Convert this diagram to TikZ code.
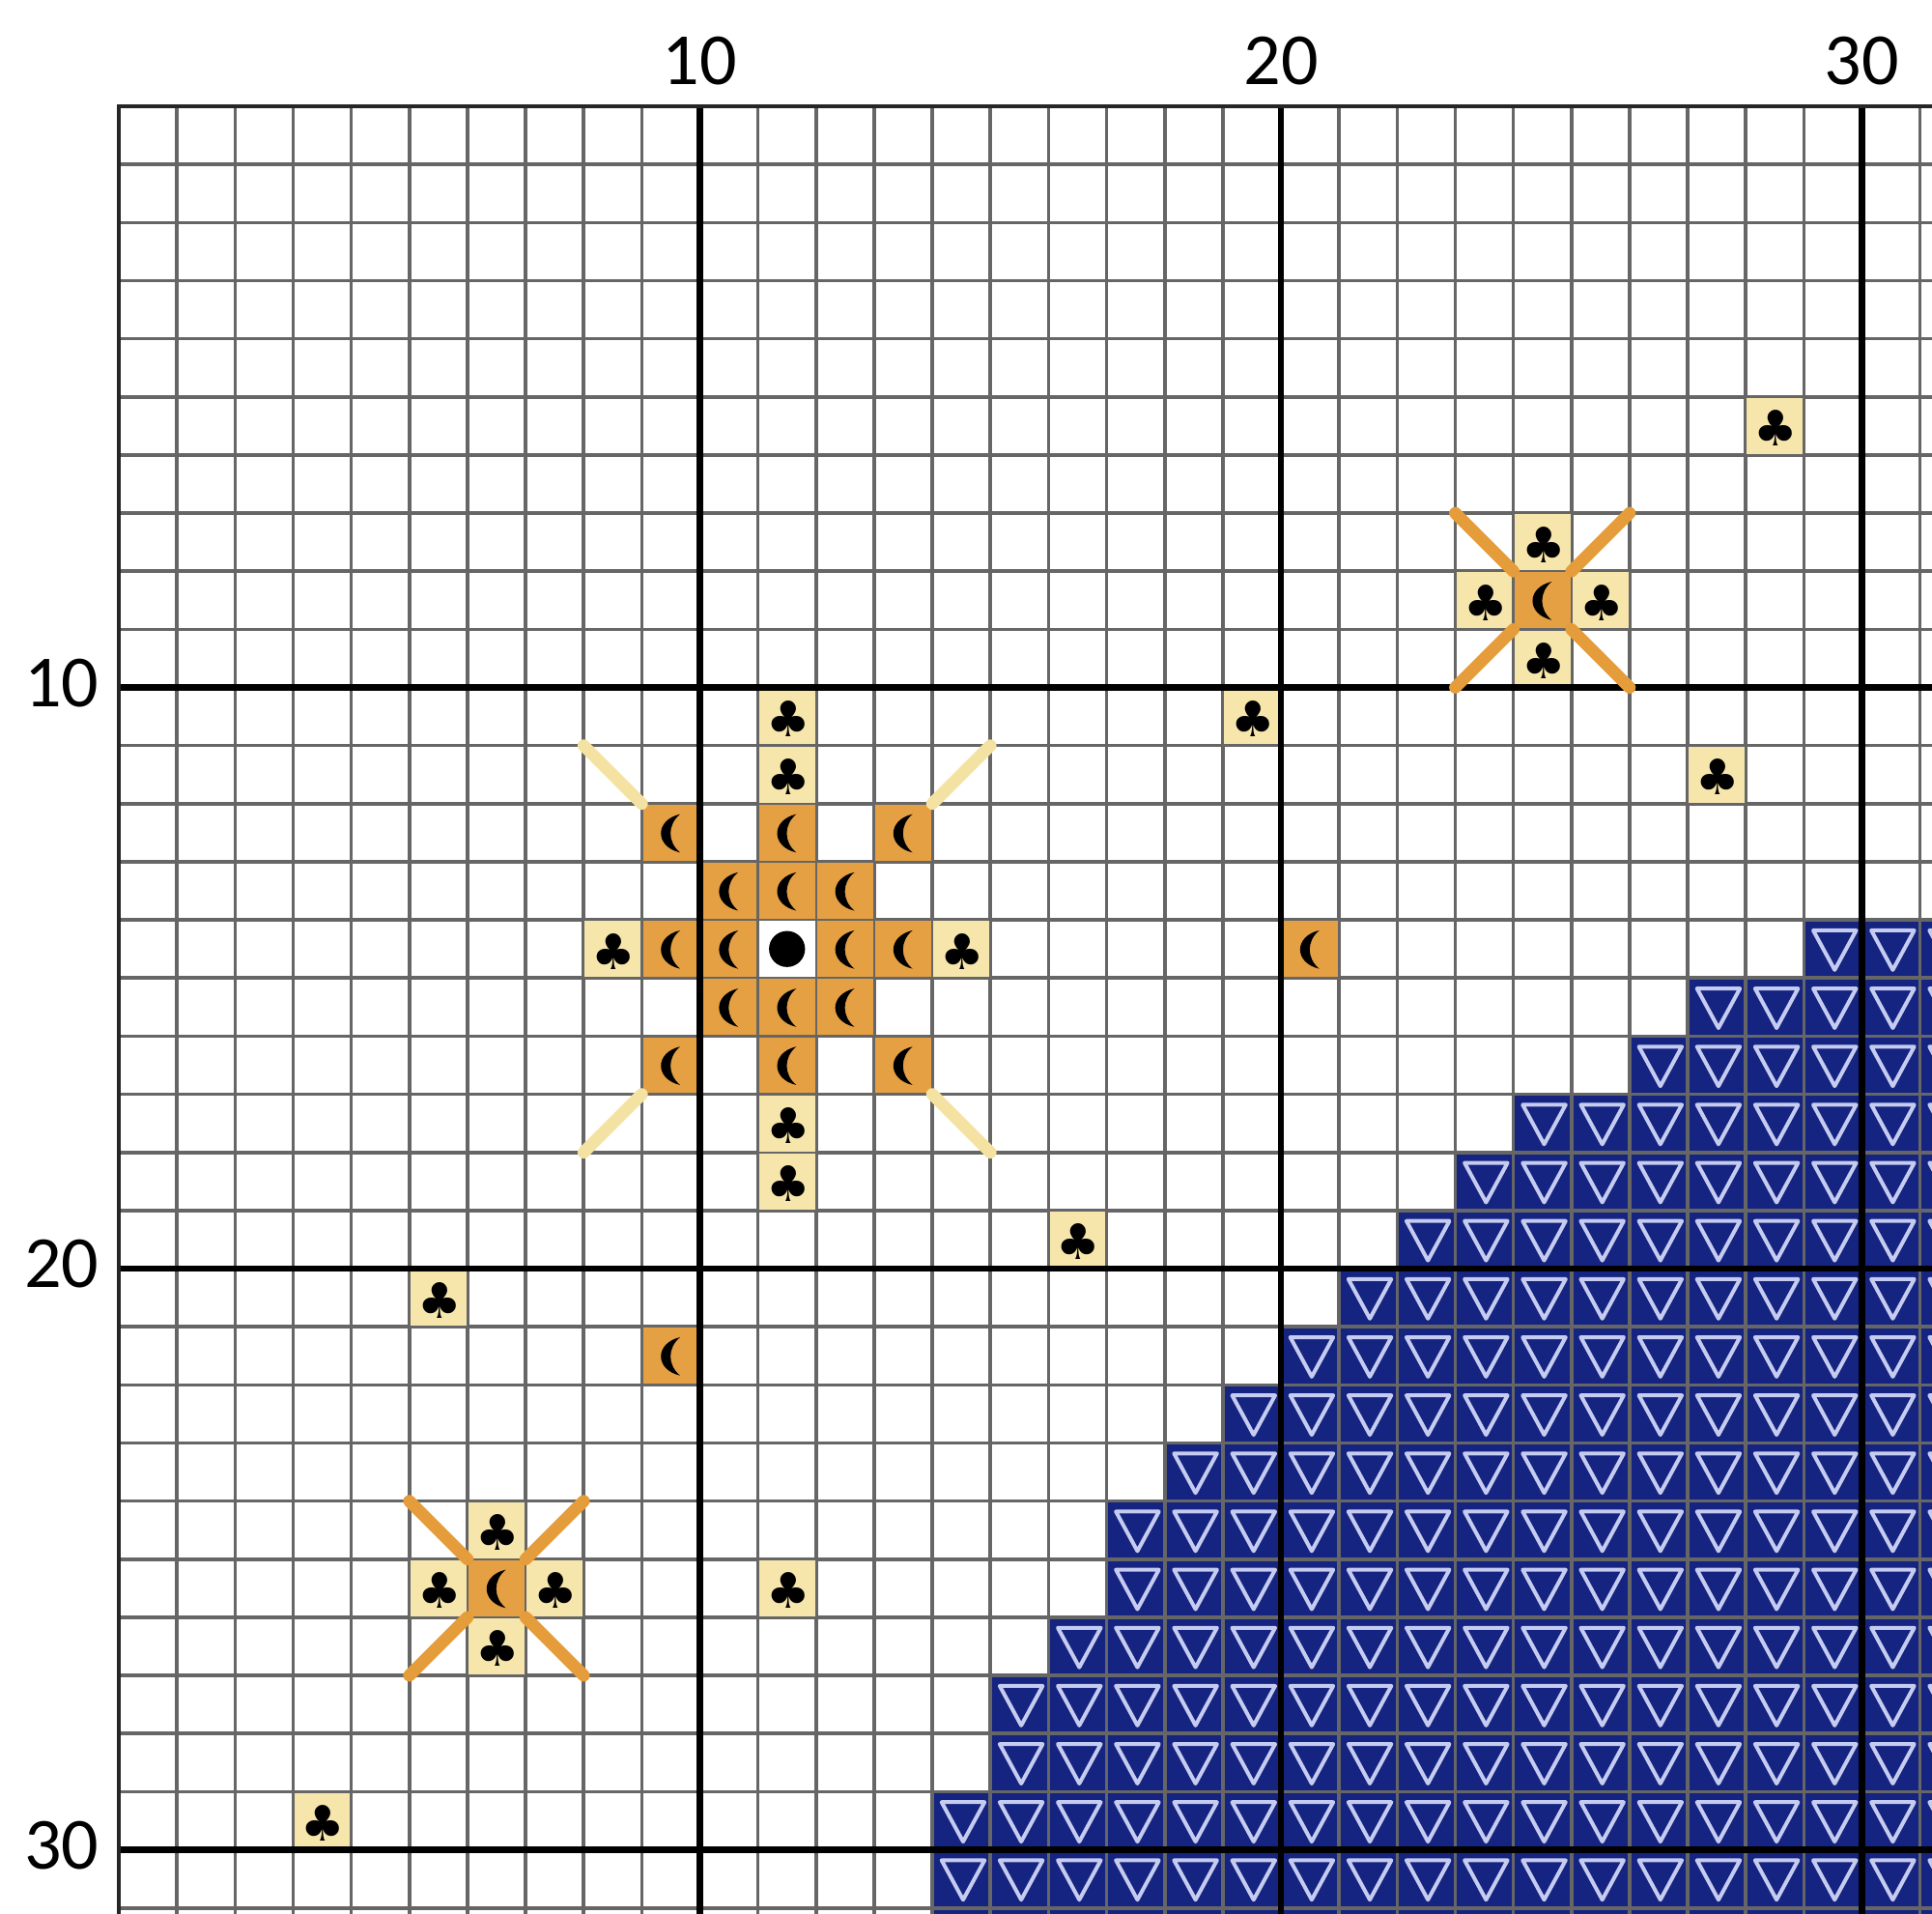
\documentclass[tikz,border=0pt]{standalone}
\usepackage{fontspec}
\setmainfont{Carlito}
\newfontfamily\suitfont{DejaVu Sans}
\usepackage{tikz}
\usetikzlibrary{calc}

\definecolor{navy}{RGB}{20,36,128}
\definecolor{tanlight}{RGB}{246,230,172}
\definecolor{tandark}{RGB}{228,160,66}
\definecolor{raylight}{RGB}{244,226,162}
\definecolor{xorange}{RGB}{229,156,58}
\definecolor{trimark}{RGB}{198,203,240}

\tikzset{
  gridline/.style={black!60, line width=0.85pt},
  tenline/.style={black, line width=1.55pt},
  lightcell/.style={fill=tanlight},
  darkcell/.style={fill=tandark},
  clubsym/.style={font=\suitfont\fontsize{12}{12}\selectfont, inner sep=0pt},
  axislabel/.style={font=\fontsize{18}{18}\selectfont, inner sep=0pt},
  backstitch/.style={line width=3pt, line cap=round},
  trisym/.style={trimark, line width=0.95pt, line join=round},
}

\begin{document}
\begin{tikzpicture}[x=0.5cm, y=-0.5cm]
    \useasboundingbox (-2.045,-1.829) rectangle (31.205,31.09);
    \clip (-2.045,-1.829) rectangle (31.205,31.09);

    % blue area, start column per row
    \foreach \r/\s in {14/29,15/27,16/26,17/24,18/23,19/22,20/21,21/20,22/19,23/18,24/17,25/17,26/16,27/15,28/15,29/14,30/14,31/14} {
        \fill[navy] (\s,\r) rectangle (32,\r+1);
        \foreach \c in {\s,...,31}
            \draw[trisym] (\c+0.16,\r+0.18) -- (\c+0.9,\r+0.18) -- (\c+0.53,\r+0.86) -- cycle;
    }

    % grid
    \foreach \i in {0,...,32} {
        \draw[gridline] (\i,0) -- (\i,32);
        \draw[gridline] (0,\i) -- (32,\i);
    }

    % stitches
    \foreach \c/\r in {28/5,24/7,23/8,25/8,24/9,19/10,27/11,11/10,11/11,8/14,14/14,11/17,11/18,16/19,5/20,6/24,5/25,7/25,6/26,11/25,3/29}
        \fill[lightcell] (\c+0.02,\r+0.02) rectangle (\c+0.98,\r+0.98);
    \foreach \c/\r in {24/8,20/14,9/21,6/25,9/12,11/12,13/12,10/13,11/13,12/13,9/14,10/14,12/14,13/14,10/15,11/15,12/15,9/16,11/16,13/16}
        \fill[darkcell] (\c+0.02,\r+0.02) rectangle (\c+0.98,\r+0.98);
    \fill[white] (11.02,14.02) rectangle (11.98,14.98);

    % every tenth line
    \foreach \i in {10,20,30} {
        \draw[tenline] (\i,0) -- (\i,32);
        \draw[tenline] (0,\i) -- (32,\i);
    }
    \draw[black!85, line width=1pt] (0,32) -- (0,0) -- (32,0);

    % symbols
    \foreach \c/\r in {28/5,24/7,23/8,25/8,24/9,19/10,27/11,11/10,11/11,8/14,14/14,11/17,11/18,16/19,5/20,6/24,5/25,7/25,6/26,11/25,3/29}
        \node[clubsym] (club-\c-\r) at (\c+0.52,\r+0.54) {♣};
    \foreach \c/\r in {24/8,20/14,9/21,6/25,9/12,11/12,13/12,10/13,11/13,12/13,9/14,10/14,12/14,13/14,10/15,11/15,12/15,9/16,11/16,13/16}
        \fill[shift={(\c,\r)}] (0.66,0.18) .. controls (0.22,0.28) and (0.22,0.74) .. (0.66,0.84) .. controls (0.44,0.66) and (0.44,0.36) .. cycle;
    \fill (11.5,14.5) circle (0.31);

    % backstitch
    \draw[backstitch, raylight] (8,11) -- (9,12) (15,11) -- (14,12) (8,18) -- (9,17) (15,18) -- (14,17);
    \foreach \c/\r in {24/8,6/25}
        \draw[backstitch, xorange] (\c-1,\r-1) -- (\c,\r) (\c+2,\r-1) -- (\c+1,\r) (\c-1,\r+2) -- (\c,\r+1) (\c+2,\r+2) -- (\c+1,\r+1);

    % numbers
    \node[axislabel, anchor=base] (top10) at (10,-0.37) {10};
    \node[axislabel, anchor=base] (top20) at (20,-0.37) {20};
    \node[axislabel, anchor=base] (top30) at (30,-0.37) {30};
    \node[axislabel, anchor=east] (side10) at (-0.33,9.92) {10};
    \node[axislabel, anchor=east] (side20) at (-0.33,19.92) {20};
    \node[axislabel, anchor=east] (side30) at (-0.33,29.92) {30};
\end{tikzpicture}
\end{document}
